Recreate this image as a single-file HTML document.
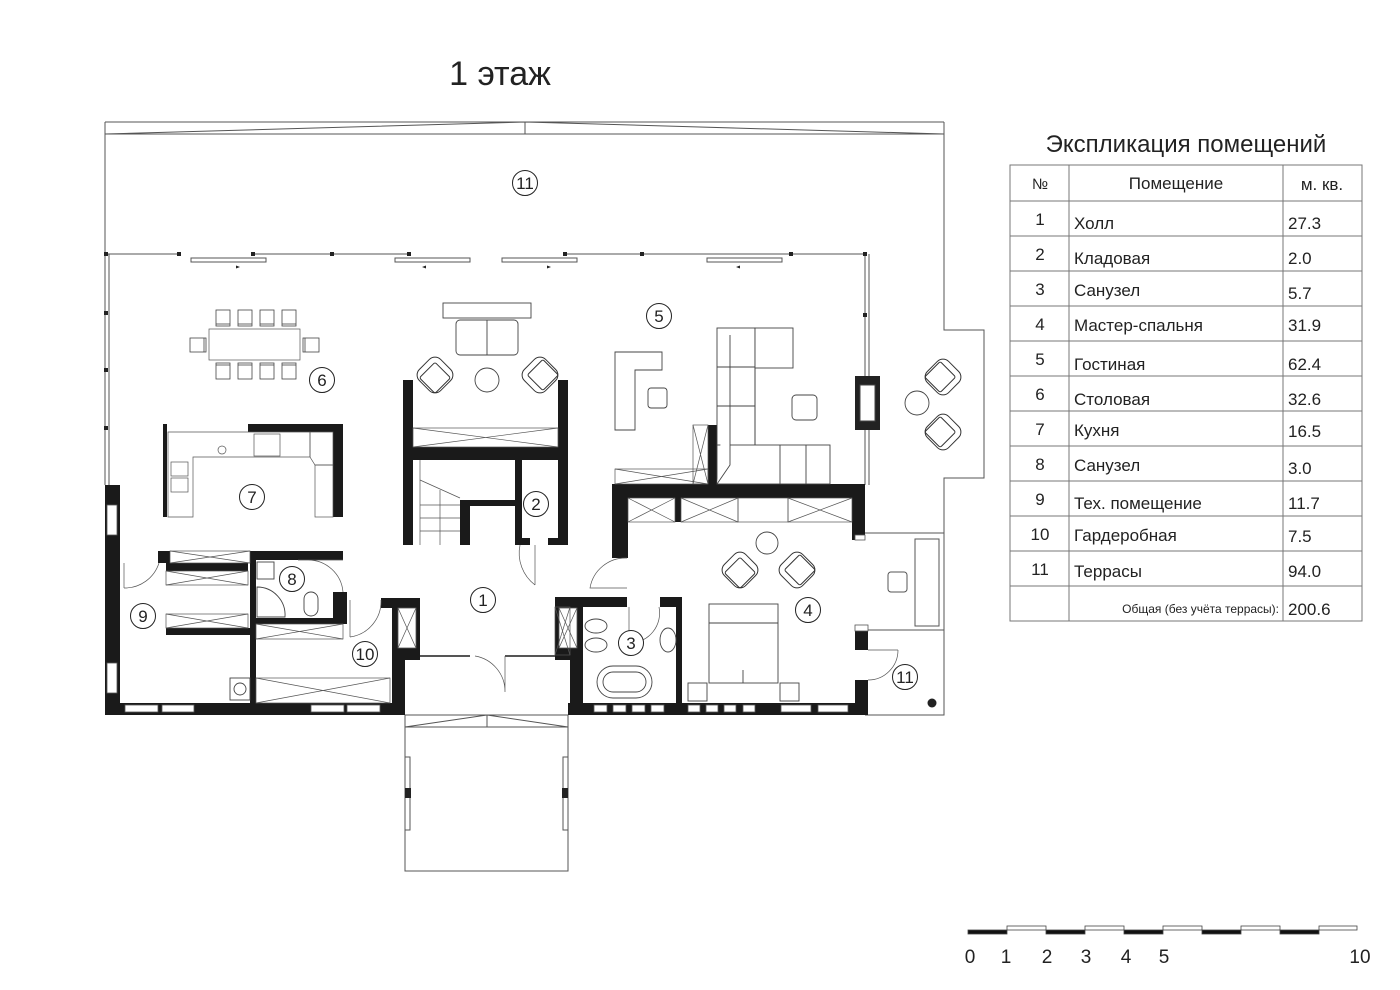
<!DOCTYPE html>
<html><head><meta charset="utf-8"><style>
html,body{margin:0;padding:0;background:#fff}
svg{display:block}
text{font-family:"Liberation Sans Narrow","Liberation Sans",sans-serif;fill:#222}
</style></head><body>
<svg width="1400" height="990" viewBox="0 0 1400 990" xmlns="http://www.w3.org/2000/svg">
<defs>
<g id="ac"><rect x="-15" y="-15" width="30" height="30" rx="8" fill="#fff" stroke="#333" stroke-width="1"/><rect x="-9" y="-9" width="22" height="22" rx="2" fill="#fff" stroke="#333" stroke-width="1"/></g>
<g id="ch"><rect x="-7" y="-8" width="14" height="16" fill="#fff" stroke="#444" stroke-width="0.8"/><line x1="-7" y1="6" x2="7" y2="6" stroke="#444" stroke-width="0.8"/></g>
<g id="lab"><circle r="12.5" fill="#fff" stroke="#222" stroke-width="1"/></g>
</defs>
<rect width="1400" height="990" fill="#fff"/>
<text x="500" y="85" font-size="34" text-anchor="middle">1 этаж</text>

<g fill="none" stroke="#555" stroke-width="1">
<!-- terrace -->
<line x1="105" y1="122" x2="944" y2="122"/>
<polyline points="105,134 525,122 944,134"/>
<line x1="105" y1="134" x2="944" y2="134"/>
<line x1="525" y1="122" x2="525" y2="134"/>
<line x1="105" y1="122" x2="105" y2="485"/>
<polyline points="944,122 944,330 984,330 984,478 944,478 944,715 865,715"/>
<line x1="865" y1="533" x2="944" y2="533"/>
<line x1="865" y1="630" x2="944" y2="630"/>
<rect x="915" y="539" width="24" height="87"/>
<rect x="888" y="572" width="19" height="20" rx="3"/>
<!-- window row -->
<line x1="105" y1="254" x2="180" y2="254"/>
<line x1="252" y1="254" x2="410" y2="254"/>
<line x1="565" y1="254" x2="865" y2="254"/>
<rect x="191" y="258" width="75" height="4"/>
<rect x="395" y="258" width="75" height="4"/>
<rect x="502" y="258" width="75" height="4"/>
<rect x="707" y="258" width="75" height="4"/>
<line x1="865" y1="254" x2="865" y2="376"/>
<line x1="869" y1="254" x2="869" y2="376"/>
<line x1="865" y1="430" x2="865" y2="485"/>
<line x1="869" y1="430" x2="869" y2="485"/>
<line x1="109" y1="254" x2="109" y2="485"/>
<!-- porch -->
<rect x="405" y="715" width="163" height="156"/>
<polyline points="405,727 487,715 568,727"/>
<line x1="405" y1="727" x2="568" y2="727"/>
<line x1="487" y1="715" x2="487" y2="727"/>
<rect x="405" y="757" width="5" height="73"/><rect x="563" y="757" width="5" height="73"/>
</g>
<g fill="#222">
<rect x="104" y="252" width="4" height="4"/><rect x="177" y="252" width="4" height="4"/><rect x="251" y="252" width="4" height="4"/><rect x="330" y="252" width="4" height="4"/><rect x="407" y="252" width="4" height="4"/>
<rect x="563" y="252" width="4" height="4"/><rect x="640" y="252" width="4" height="4"/><rect x="789" y="252" width="4" height="4"/><rect x="863" y="252" width="4" height="4"/>
<rect x="104" y="311" width="4" height="4"/><rect x="104" y="368" width="4" height="4"/><rect x="104" y="426" width="4" height="4"/>
<rect x="863" y="313" width="4" height="4"/>
<rect x="405" y="788" width="6" height="10"/><rect x="562" y="788" width="6" height="10"/>
<!-- arrows -->
<path d="M222 267h14v-1.5l4 1.5-4 1.5v-1.5z"/><path d="M440 267h-14v-1.5l-4 1.5 4 1.5v-1.5z"/><path d="M533 267h14v-1.5l4 1.5-4 1.5v-1.5z"/><path d="M754 267h-14v-1.5l-4 1.5 4 1.5v-1.5z"/>
<!-- fireplace -->
<rect x="855" y="376" width="25" height="54"/>
</g>
<rect x="860" y="385" width="15" height="36" fill="#fff" stroke="#444"/>

<!-- thick walls -->
<g fill="#1a1a1a">
<rect x="105" y="485" width="15" height="230"/>
<rect x="105" y="703" width="300" height="12"/>
<rect x="392" y="598" width="28" height="62"/>
<rect x="392" y="598" width="13" height="117"/>
<rect x="382" y="598" width="38" height="9"/>
<rect x="555" y="598" width="28" height="62"/>
<rect x="570" y="598" width="13" height="117"/>
<rect x="568" y="703" width="300" height="12"/>
<rect x="555" y="597" width="72" height="10"/>
<rect x="660" y="597" width="20" height="10"/>
<rect x="676" y="597" width="6" height="118"/>
<rect x="855" y="625" width="13" height="25"/>
<rect x="855" y="680" width="13" height="35"/>
<!-- stair block -->
<rect x="403" y="380" width="10" height="165"/>
<rect x="558" y="380" width="10" height="165"/>
<rect x="403" y="447" width="165" height="13"/>
<rect x="460" y="500" width="55" height="6"/>
<rect x="460" y="500" width="10" height="45"/>
<rect x="515" y="460" width="7" height="85"/>
<rect x="520" y="538" width="10" height="7"/><rect x="548" y="538" width="10" height="7"/>
<!-- room 5 wall -->
<rect x="612" y="484" width="253" height="14"/>
<rect x="612" y="484" width="16" height="74"/>
<rect x="852" y="484" width="13" height="56"/>
<rect x="708" y="425" width="9" height="60"/>
<rect x="675" y="498" width="6" height="24"/>
<!-- kitchen -->
<rect x="248" y="424" width="95" height="8"/>
<rect x="333" y="424" width="10" height="93"/>
<rect x="163" y="424" width="4" height="93"/>
<!-- left rooms -->
<rect x="158" y="551" width="12" height="12"/>
<rect x="250" y="551" width="93" height="9"/>
<rect x="250" y="551" width="6" height="152"/>
<rect x="166" y="563" width="82" height="8"/>
<rect x="166" y="628" width="84" height="7"/>
<rect x="256" y="618" width="87" height="6"/>
<rect x="333" y="592" width="14" height="32"/>
<rect x="381" y="598" width="11" height="10"/>
</g>
<!-- windows in walls -->
<g fill="#fff" stroke="#555" stroke-width="0.8">
<rect x="107" y="505" width="10" height="30"/><rect x="107" y="663" width="10" height="30"/>
<rect x="125" y="705" width="33" height="7"/><rect x="162" y="705" width="32" height="7"/><rect x="311" y="705" width="33" height="7"/><rect x="347" y="705" width="33" height="7"/>
<rect x="594" y="705" width="13" height="7"/><rect x="613" y="705" width="13" height="7"/><rect x="632" y="705" width="13" height="7"/><rect x="651" y="705" width="13" height="7"/>
<rect x="688" y="705" width="12" height="7"/><rect x="706" y="705" width="12" height="7"/><rect x="724" y="705" width="12" height="7"/><rect x="743" y="705" width="12" height="7"/>
<rect x="781" y="705" width="30" height="7"/><rect x="818" y="705" width="30" height="7"/>
<rect x="855" y="535" width="10" height="5"/><rect x="855" y="625" width="13" height="6"/>
<rect x="398" y="608" width="18" height="40"/><rect x="559" y="608" width="18" height="40"/>
</g>
<g stroke="#555" stroke-width="0.7" fill="none">
<path d="M398 608l18 40M416 608l-18 40M559 608l18 40M577 608l-18 40"/>
<!-- cabinets with X -->
<rect x="413" y="428" width="145" height="19"/><path d="M413 428l145 19M558 428l-145 19"/>
<rect x="170" y="551" width="80" height="12"/><path d="M170 551l80 12M250 551l-80 12"/>
<rect x="166" y="571" width="82" height="14"/><path d="M166 571l82 14M248 571l-82 14"/>
<rect x="166" y="614" width="82" height="14"/><path d="M166 614l82 14M248 614l-82 14"/>
<rect x="256" y="624" width="87" height="15"/><path d="M256 624l87 15M343 624l-87 15"/>
<rect x="256" y="678" width="134" height="25"/><path d="M256 678l134 25M390 678l-134 25"/>
<rect x="628" y="498" width="47" height="24"/><path d="M628 498l47 24M675 498l-47 24"/>
<rect x="681" y="498" width="57" height="24"/><path d="M681 498l57 24M738 498l-57 24"/>
<rect x="738" y="498" width="50" height="24"/>
<rect x="788" y="498" width="64" height="24"/><path d="M788 498l64 24M852 498l-64 24"/>
<rect x="615" y="469" width="93" height="15"/><path d="M615 469l93 15M708 469l-93 15"/>
<rect x="693" y="425" width="15" height="59"/><path d="M693 425l15 59M708 425l-15 59"/>
<rect x="555" y="607" width="15" height="48"/><path d="M555 607l15 48M570 607l-15 48"/>
<!-- stairs -->
<line x1="420" y1="460" x2="420" y2="545"/>
<path d="M420 480l40 18M420 505h40M420 518h40M420 531h40M440 490v55"/>
<!-- door arcs -->
<path d="M505 656v36M505 692a36 36 0 0 0-30-36"/>
<path d="M420 656h50M505 656h50" stroke-width="2"/>
<path d="M535 545v40M535 585a40 40 0 0 1-15-40"/>
<path d="M627 558a36 36 0 0 0-37 30h37"/>
<path d="M629 607v36M629 643a30 30 0 0 0 30-36"/>
<path d="M868 650h30M898 650a30 30 0 0 1-30 30"/>
<path d="M124 563v25M124 588a36 36 0 0 0 35-25"/>
<path d="M343 560h-45M343 592a35 35 0 0 0-35-32"/>
<path d="M350 600v37M350 637a36 36 0 0 0 31-37"/>
<!-- kitchen counters -->
<path d="M168 432h142v25h-117v60h-25z"/>
<path d="M310 432h23v33h-18l-5-8z"/>
<rect x="315" y="465" width="18" height="52"/>
<rect x="171" y="462" width="17" height="14"/><rect x="171" y="478" width="17" height="14"/>
<rect x="254" y="434" width="26" height="22"/>
<circle cx="222" cy="450" r="4"/>
<!-- dining -->
<rect x="209" y="329" width="91" height="31" fill="#fff"/>
</g>
<g>
<use href="#ch" x="223" y="318"/><use href="#ch" x="245" y="318"/><use href="#ch" x="267" y="318"/><use href="#ch" x="289" y="318"/>
<use href="#ch" x="223" y="371" transform="rotate(180 223 371)"/><use href="#ch" x="245" y="371" transform="rotate(180 245 371)"/><use href="#ch" x="267" y="371" transform="rotate(180 267 371)"/><use href="#ch" x="289" y="371" transform="rotate(180 289 371)"/>
<use href="#ch" x="198" y="345" transform="rotate(-90 198 345)"/><use href="#ch" x="311" y="345" transform="rotate(90 311 345)"/>
</g>
<g fill="#fff" stroke="#444" stroke-width="0.9">
<!-- living 1 -->
<rect x="443" y="303" width="88" height="15"/>
<rect x="456" y="320" width="62" height="35" rx="4"/><line x1="487" y1="320" x2="487" y2="355"/>
<circle cx="487" cy="380" r="12"/>
<!-- room5 -->
<path d="M615 352h47v18h-27v60h-20z"/>
<rect x="648" y="388" width="19" height="20" rx="3"/>
<rect x="717" y="328" width="38" height="156"/>
<rect x="755" y="328" width="38" height="40"/>
<rect x="717" y="445" width="113" height="39"/>
<path d="M730 335v130l-13 19M755 368v77M717 367h38M717 406h38M780 445v39M806 445v39"/>
<rect x="792" y="395" width="25" height="25" rx="4"/>
<!-- terrace table -->
<circle cx="917" cy="403" r="12"/>
<!-- bedroom -->
<rect x="709" y="604" width="69" height="79"/><line x1="709" y1="623" x2="778" y2="623"/><line x1="743" y1="670" x2="743" y2="683"/>
<rect x="688" y="683" width="19" height="18"/><rect x="780" y="683" width="19" height="18"/>
<circle cx="767" cy="543" r="11"/>
<!-- bath 3 -->
<rect x="597" y="666" width="55" height="32" rx="16"/><rect x="603" y="672" width="43" height="20" rx="10"/>
<ellipse cx="596" cy="626" rx="11" ry="7"/><ellipse cx="596" cy="645" rx="11" ry="7"/>
<ellipse cx="668" cy="640" rx="8" ry="12"/>
<!-- bath 8 -->
<rect x="257" y="562" width="17" height="17"/>
<path d="M257 587a28 28 0 0 1 28 30h-28z"/>
<rect x="304" y="592" width="14" height="24" rx="7"/>
<rect x="230" y="678" width="20" height="22"/><circle cx="240" cy="689" r="6"/>
</g>
<g>
<use href="#ac" transform="translate(435,375) rotate(45)"/>
<use href="#ac" transform="translate(540,375) rotate(-45)"/>
<use href="#ac" transform="translate(943,377) rotate(135)"/>
<use href="#ac" transform="translate(943,432) rotate(-135) scale(1,-1)"/>
<use href="#ac" transform="translate(740,570) rotate(45)"/>
<use href="#ac" transform="translate(797,570) rotate(-45)"/>
</g>
<circle cx="932" cy="703" r="4.5" fill="#222"/>

<!-- labels -->
<g font-size="17" text-anchor="middle">
<use href="#lab" x="525" y="183"/><text x="525" y="189">11</text>
<use href="#lab" x="659" y="316"/><text x="659" y="322">5</text>
<use href="#lab" x="322" y="380"/><text x="322" y="386">6</text>
<use href="#lab" x="252" y="497"/><text x="252" y="503">7</text>
<use href="#lab" x="536" y="504"/><text x="536" y="510">2</text>
<use href="#lab" x="483" y="600"/><text x="483" y="606">1</text>
<use href="#lab" x="292" y="579"/><text x="292" y="585">8</text>
<use href="#lab" x="143" y="616"/><text x="143" y="622">9</text>
<use href="#lab" x="365" y="654"/><text x="365" y="660">10</text>
<use href="#lab" x="631" y="643"/><text x="631" y="649">3</text>
<use href="#lab" x="808" y="610"/><text x="808" y="616">4</text>
<use href="#lab" x="905" y="677"/><text x="905" y="683">11</text>
</g>

<!-- table -->
<text x="1186" y="152" font-size="24" text-anchor="middle">Экспликация помещений</text>
<g stroke="#777" stroke-width="1" fill="none">
<rect x="1010" y="165" width="352" height="456"/>
<line x1="1069" y1="165" x2="1069" y2="621"/><line x1="1283" y1="165" x2="1283" y2="621"/>
<path d="M1010 201h352M1010 236h352M1010 271h352M1010 306h352M1010 341h352M1010 376h352M1010 411h352M1010 446h352M1010 481h352M1010 516h352M1010 551h352M1010 586h352"/>
</g>
<g font-size="17">
<text x="1040" y="189" text-anchor="middle" font-size="15">№</text>
<text x="1176" y="189" text-anchor="middle">Помещение</text>
<text x="1322" y="190" text-anchor="middle">м. кв.</text>
<g text-anchor="middle">
<text x="1040" y="225">1</text><text x="1040" y="260">2</text><text x="1040" y="295">3</text><text x="1040" y="330">4</text><text x="1040" y="365">5</text><text x="1040" y="400">6</text><text x="1040" y="435">7</text><text x="1040" y="470">8</text><text x="1040" y="505">9</text><text x="1040" y="540">10</text><text x="1040" y="575">11</text>
</g>
<text x="1074" y="229">Холл</text><text x="1074" y="264">Кладовая</text><text x="1074" y="296">Санузел</text><text x="1074" y="331">Мастер-спальня</text><text x="1074" y="370">Гостиная</text><text x="1074" y="405">Столовая</text><text x="1074" y="436">Кухня</text><text x="1074" y="471">Санузел</text><text x="1074" y="509">Тех. помещение</text><text x="1074" y="541">Гардеробная</text><text x="1074" y="577">Террасы</text>
<text x="1288" y="229">27.3</text><text x="1288" y="264">2.0</text><text x="1288" y="299">5.7</text><text x="1288" y="331">31.9</text><text x="1288" y="370">62.4</text><text x="1288" y="405">32.6</text><text x="1288" y="437">16.5</text><text x="1288" y="474">3.0</text><text x="1288" y="509">11.7</text><text x="1288" y="542">7.5</text><text x="1288" y="577">94.0</text>
<text x="1279" y="613" font-size="12" text-anchor="end">Общая (без учёта террасы):</text>
<text x="1288" y="615">200.6</text>
</g>

<!-- scale -->
<g stroke="#444" stroke-width="0.8">
<rect x="968" y="930" width="39" height="4" fill="#111"/><rect x="1007" y="926" width="39" height="4" fill="#fff"/>
<rect x="1046" y="930" width="39" height="4" fill="#111"/><rect x="1085" y="926" width="39" height="4" fill="#fff"/>
<rect x="1124" y="930" width="39" height="4" fill="#111"/><rect x="1163" y="926" width="39" height="4" fill="#fff"/>
<rect x="1202" y="930" width="39" height="4" fill="#111"/><rect x="1241" y="926" width="39" height="4" fill="#fff"/>
<rect x="1280" y="930" width="39" height="4" fill="#111"/><rect x="1319" y="926" width="38" height="4" fill="#fff"/>
</g>
<g font-size="19" text-anchor="middle">
<text x="970" y="963">0</text><text x="1006" y="963">1</text><text x="1047" y="963">2</text><text x="1086" y="963">3</text><text x="1126" y="963">4</text><text x="1164" y="963">5</text><text x="1360" y="963">10</text>
</g>
</svg>
</body></html>
